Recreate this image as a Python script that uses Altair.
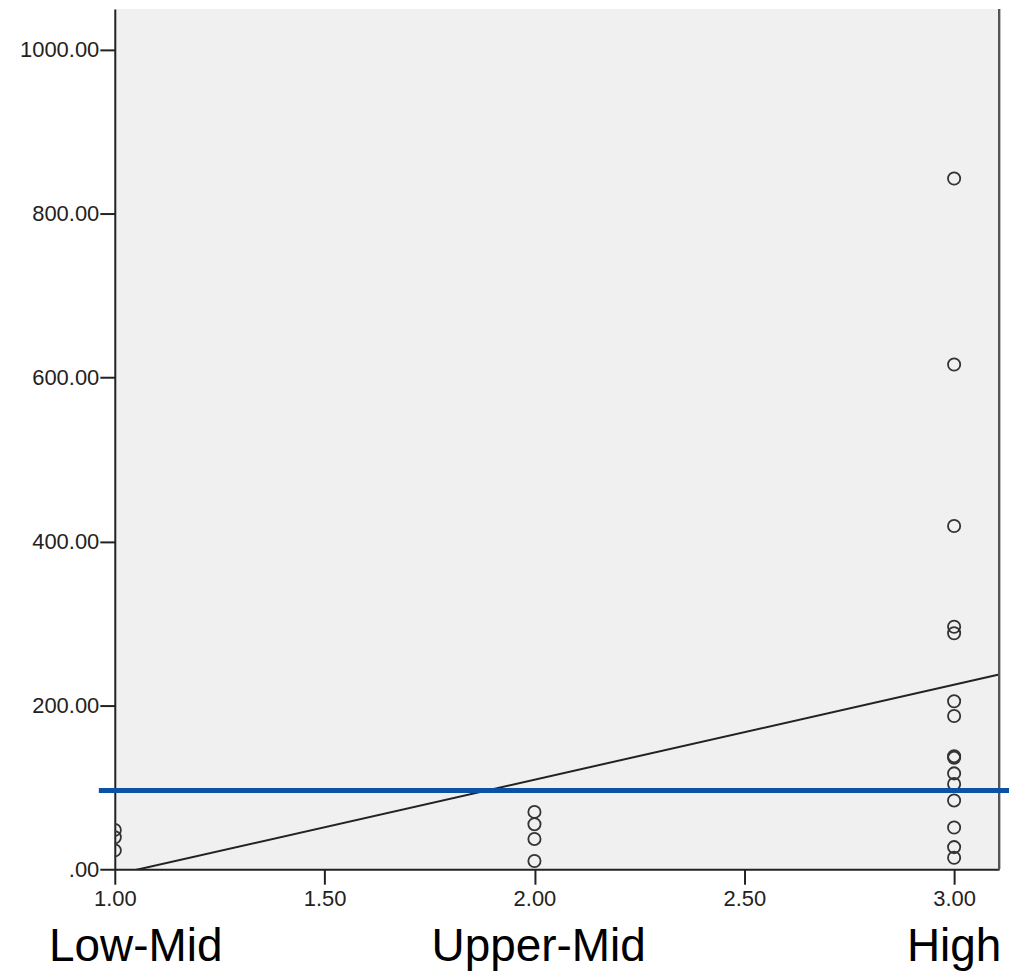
import altair as alt
import pandas as pd

# ---- data ----
group_x = [1.0] * 3 + [2.0] * 4 + [3.0] * 15
values = [48, 39, 23,
          70, 55, 37, 10,
          843, 616, 419, 296, 288, 205, 187, 138, 136, 117, 104, 84, 51, 27, 14]

# fitted line (intercept, slope)
fit_intercept = -122.6
fit_slope = 115.95

# horizontal reference line (blue)
ref_value = 96
ref_x_from = 0.962
ref_x_to = 3.131

# category labels below the axis
cat_labels = ["Low-Mid", "Upper-Mid", "High"]
cat_pos = [1.05, 2.01, 3.0]

x_ticks = [1.0, 1.5, 2.0, 2.5, 3.0]
y_ticks = [0, 200, 400, 600, 800, 1000]
x_domain = [1.0, 3.107]
y_domain = [0, 1050]

W, H = 886, 862
FONT = "Liberation Sans"

pts = pd.DataFrame({"x": group_x, "y": values})
fit = pd.DataFrame({"x": x_domain,
                    "y": [fit_intercept + fit_slope * v for v in x_domain]})
ref = pd.DataFrame({"x": [ref_x_from], "x2": [ref_x_to], "y": [ref_value]})
cats = pd.DataFrame({"label": cat_labels, "x": cat_pos})

xs = alt.Scale(domain=x_domain, nice=False, zero=False)
ys = alt.Scale(domain=y_domain, nice=False)

x_axis = alt.Axis(values=x_ticks, format=".2f", title=None, grid=False,
                  tickSize=15, tickWidth=2, tickColor="#222",
                  domainWidth=2, domainColor="#222",
                  labelFont=FONT, labelFontSize=22, labelColor="#222",
                  labelPadding=4, labelFlush=False)
y_axis = alt.Axis(values=y_ticks,
                  labelExpr="datum.value == 0 ? '.00' : format(datum.value, '.2f')",
                  title=None, grid=False,
                  tickSize=15, tickWidth=2, tickColor="#222",
                  domainWidth=2, domainColor="#222",
                  labelFont=FONT, labelFontSize=22, labelColor="#222",
                  labelPadding=1)

points = alt.Chart(pts).mark_point(
    shape="circle", filled=False, size=150, stroke="#333", strokeWidth=1.8,
    clip=True, opacity=1
).encode(
    x=alt.X("x:Q", scale=xs, axis=x_axis),
    y=alt.Y("y:Q", scale=ys, axis=y_axis),
)

line = alt.Chart(fit).mark_line(color="#222", strokeWidth=2, clip=True).encode(
    x=alt.X("x:Q", scale=xs), y=alt.Y("y:Q", scale=ys)
)

border = alt.Chart(pts).mark_rule(color="#555", strokeWidth=2).encode(
    x=alt.value(W), y=alt.value(0), y2=alt.value(H)
)

blue = alt.Chart(ref).mark_rule(color="#0B52A4", strokeWidth=5, clip=False).encode(
    x=alt.X("x:Q", scale=xs), x2="x2:Q", y=alt.Y("y:Q", scale=ys)
)

labels = alt.Chart(cats).mark_text(
    font=FONT, fontSize=46, color="#000", align="center", baseline="alphabetic",
    clip=False
).encode(
    x=alt.X("x:Q", scale=xs), y=alt.value(954), text="label:N"
)

chart = alt.layer(line, points, border, blue, labels).properties(
    width=W, height=H,
    autosize=alt.AutoSizeParams(type="none"),
    padding={"left": 107, "top": 0, "right": 10, "bottom": 103},
).configure_view(fill="#F0F0F0", stroke=None)

chart.save("out.html", embed_options={"renderer": "svg", "actions": False})
